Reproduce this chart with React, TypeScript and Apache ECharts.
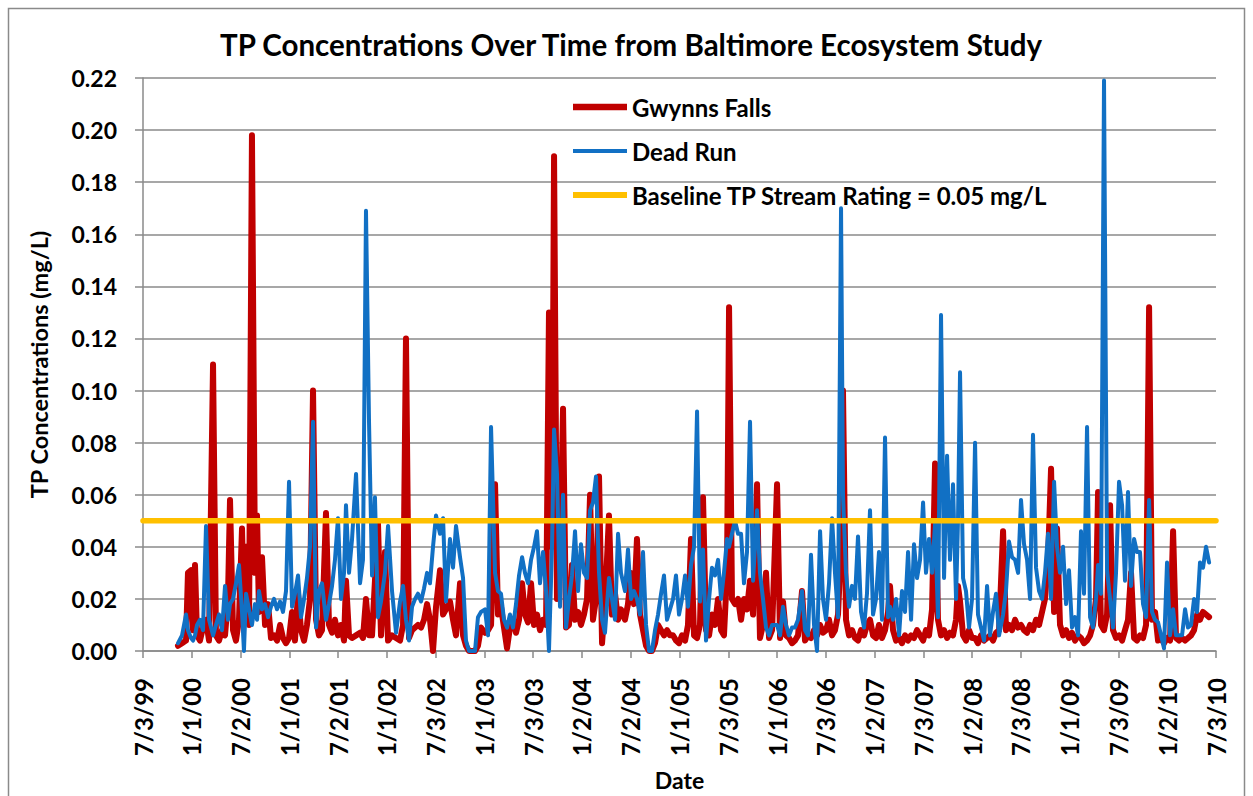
import { useEffect, useRef } from "react";
import * as echarts from "echarts";

// Sampling dates as decimal years (shared by both stream stations)
const sampleDates = [
  1999.859, 1999.900, 1999.941, 1999.961, 1999.992, 2000.013, 2000.033, 2000.054, 2000.084, 2000.115,
  2000.146, 2000.177, 2000.218, 2000.248, 2000.279, 2000.310, 2000.341, 2000.371, 2000.392, 2000.423,
  2000.453, 2000.484, 2000.515, 2000.535, 2000.556, 2000.587, 2000.617, 2000.648, 2000.669, 2000.689,
  2000.720, 2000.751, 2000.782, 2000.812, 2000.843, 2000.874, 2000.905, 2000.935, 2000.966, 2000.997,
  2001.028, 2001.058, 2001.089, 2001.120, 2001.151, 2001.181, 2001.212, 2001.243, 2001.274, 2001.304,
  2001.335, 2001.376, 2001.407, 2001.438, 2001.468, 2001.499, 2001.530, 2001.561, 2001.581, 2001.612,
  2001.643, 2001.684, 2001.725, 2001.755, 2001.786, 2001.817, 2001.848, 2001.878, 2001.909, 2001.940,
  2001.981, 2002.012, 2002.053, 2002.094, 2002.135, 2002.166, 2002.196, 2002.227, 2002.258, 2002.289,
  2002.319, 2002.350, 2002.381, 2002.412, 2002.442, 2002.473, 2002.504, 2002.545, 2002.576, 2002.606,
  2002.647, 2002.678, 2002.709, 2002.750, 2002.781, 2002.811, 2002.842, 2002.873, 2002.904, 2002.934,
  2002.965, 2003.006, 2003.037, 2003.068, 2003.109, 2003.139, 2003.170, 2003.201, 2003.232, 2003.262,
  2003.293, 2003.324, 2003.355, 2003.386, 2003.416, 2003.447, 2003.478, 2003.509, 2003.539, 2003.570,
  2003.601, 2003.632, 2003.662, 2003.693, 2003.714, 2003.744, 2003.775, 2003.806, 2003.837, 2003.867,
  2003.898, 2003.929, 2003.960, 2003.990, 2004.021, 2004.052, 2004.083, 2004.113, 2004.144, 2004.175,
  2004.206, 2004.236, 2004.277, 2004.308, 2004.339, 2004.370, 2004.400, 2004.441, 2004.472, 2004.503,
  2004.534, 2004.564, 2004.595, 2004.626, 2004.657, 2004.688, 2004.718, 2004.749, 2004.780, 2004.811,
  2004.841, 2004.872, 2004.903, 2004.934, 2004.964, 2004.995, 2005.026, 2005.057, 2005.087, 2005.118,
  2005.149, 2005.180, 2005.210, 2005.241, 2005.272, 2005.303, 2005.333, 2005.364, 2005.395, 2005.426,
  2005.456, 2005.487, 2005.508, 2005.538, 2005.569, 2005.600, 2005.631, 2005.661, 2005.692, 2005.723,
  2005.754, 2005.795, 2005.825, 2005.856, 2005.887, 2005.918, 2005.949, 2006.000, 2006.031, 2006.061,
  2006.092, 2006.123, 2006.154, 2006.184, 2006.215, 2006.256, 2006.287, 2006.318, 2006.348, 2006.379,
  2006.410, 2006.441, 2006.471, 2006.502, 2006.533, 2006.564, 2006.594, 2006.625, 2006.656, 2006.676,
  2006.707, 2006.738, 2006.769, 2006.799, 2006.830, 2006.861, 2006.892, 2006.922, 2006.953, 2006.984,
  2007.015, 2007.045, 2007.076, 2007.107, 2007.138, 2007.158, 2007.189, 2007.220, 2007.251, 2007.281,
  2007.312, 2007.343, 2007.374, 2007.404, 2007.435, 2007.466, 2007.497, 2007.527, 2007.558, 2007.589,
  2007.620, 2007.650, 2007.681, 2007.712, 2007.743, 2007.773, 2007.804, 2007.835, 2007.855, 2007.876,
  2007.907, 2007.937, 2007.968, 2007.999, 2008.030, 2008.060, 2008.091, 2008.122, 2008.153, 2008.183,
  2008.214, 2008.245, 2008.276, 2008.317, 2008.347, 2008.378, 2008.409, 2008.440, 2008.471, 2008.501,
  2008.532, 2008.563, 2008.594, 2008.624, 2008.655, 2008.686, 2008.717, 2008.747, 2008.778, 2008.809,
  2008.840, 2008.870, 2008.901, 2008.932, 2008.963, 2008.993, 2009.024, 2009.055, 2009.086, 2009.116,
  2009.147, 2009.178, 2009.209, 2009.239, 2009.270, 2009.291, 2009.321, 2009.352, 2009.383, 2009.414,
  2009.444, 2009.475, 2009.506, 2009.537, 2009.567, 2009.598, 2009.629, 2009.660, 2009.690, 2009.721,
  2009.752, 2009.783, 2009.814, 2009.844, 2009.875, 2009.906, 2009.937, 2009.967, 2009.998, 2010.029,
  2010.060, 2010.090, 2010.121, 2010.152, 2010.183, 2010.213, 2010.244, 2010.275, 2010.306, 2010.336,
  2010.367, 2010.398, 2010.429,
];

// Total phosphorus, mg/L
const gwynnsFalls = [
  0.002, 0.003, 0.004, 0.030, 0.031, 0.008, 0.033, 0.006, 0.004, 0.009,
  0.012, 0.004, 0.110, 0.006, 0.004, 0.008, 0.006, 0.020, 0.058, 0.008,
  0.004, 0.012, 0.047, 0.015, 0.040, 0.010, 0.198, 0.030, 0.052, 0.015,
  0.036, 0.010, 0.018, 0.005, 0.006, 0.004, 0.010, 0.005, 0.003, 0.005,
  0.015, 0.004, 0.022, 0.008, 0.004, 0.010, 0.020, 0.100, 0.012, 0.006,
  0.008, 0.053, 0.010, 0.007, 0.012, 0.006, 0.010, 0.004, 0.027, 0.006,
  0.005, 0.006, 0.007, 0.005, 0.020, 0.006, 0.006, 0.027, 0.049, 0.006,
  0.038, 0.004, 0.006, 0.005, 0.004, 0.010, 0.120, 0.005, 0.008, 0.009,
  0.010, 0.009, 0.012, 0.018, 0.012, 0.000, 0.017, 0.031, 0.014, 0.016,
  0.019, 0.012, 0.006, 0.026, 0.006, 0.002, 0.000, 0.000, 0.000, 0.002,
  0.009, 0.007, 0.008, 0.010, 0.064, 0.014, 0.017, 0.009, 0.001, 0.009,
  0.012, 0.007, 0.012, 0.026, 0.014, 0.011, 0.026, 0.010, 0.014, 0.008,
  0.012, 0.010, 0.130, 0.040, 0.190, 0.020, 0.035, 0.093, 0.009, 0.010,
  0.033, 0.012, 0.015, 0.010, 0.014, 0.020, 0.060, 0.012, 0.020, 0.067,
  0.003, 0.018, 0.052, 0.014, 0.022, 0.012, 0.016, 0.012, 0.018, 0.030,
  0.018, 0.043, 0.014, 0.008, 0.002, 0.000, 0.000, 0.003, 0.010, 0.008,
  0.006, 0.008, 0.006, 0.006, 0.004, 0.003, 0.006, 0.004, 0.010, 0.043,
  0.006, 0.005, 0.010, 0.059, 0.008, 0.006, 0.014, 0.010, 0.020, 0.008,
  0.006, 0.030, 0.132, 0.020, 0.018, 0.020, 0.012, 0.020, 0.016, 0.027,
  0.014, 0.064, 0.005, 0.010, 0.030, 0.005, 0.008, 0.064, 0.005, 0.019,
  0.006, 0.005, 0.003, 0.004, 0.006, 0.023, 0.004, 0.006, 0.005, 0.008,
  0.006, 0.010, 0.007, 0.008, 0.012, 0.006, 0.008, 0.014, 0.040, 0.100,
  0.012, 0.006, 0.008, 0.005, 0.004, 0.008, 0.006, 0.010, 0.012, 0.006,
  0.005, 0.010, 0.005, 0.008, 0.015, 0.025, 0.008, 0.004, 0.005, 0.003,
  0.006, 0.004, 0.006, 0.005, 0.008, 0.006, 0.004, 0.008, 0.006, 0.016,
  0.072, 0.012, 0.006, 0.008, 0.005, 0.007, 0.006, 0.012, 0.025, 0.019,
  0.006, 0.004, 0.008, 0.005, 0.005, 0.003, 0.006, 0.004, 0.005, 0.006,
  0.004, 0.007, 0.008, 0.046, 0.008, 0.010, 0.008, 0.012, 0.009, 0.010,
  0.008, 0.007, 0.010, 0.008, 0.012, 0.010, 0.015, 0.020, 0.035, 0.070,
  0.015, 0.047, 0.010, 0.006, 0.008, 0.005, 0.007, 0.004, 0.006, 0.005,
  0.003, 0.004, 0.006, 0.010, 0.020, 0.061, 0.010, 0.008, 0.014, 0.056,
  0.008, 0.005, 0.006, 0.004, 0.008, 0.012, 0.030, 0.005, 0.004, 0.006,
  0.005, 0.010, 0.132, 0.012, 0.015, 0.004, 0.005, 0.003, 0.005, 0.004,
  0.046, 0.005, 0.004, 0.005, 0.004, 0.005, 0.006, 0.008, 0.014, 0.012,
  0.015, 0.014, 0.013,
];

const deadRun = [
  0.003, 0.006, 0.014, 0.008, 0.005, 0.004, 0.006, 0.010, 0.012, 0.008,
  0.048, 0.012, 0.006, 0.010, 0.014, 0.008, 0.025, 0.012, 0.018, 0.020,
  0.026, 0.033, 0.015, 0.000, 0.022, 0.016, 0.010, 0.018, 0.012, 0.023,
  0.016, 0.018, 0.013, 0.017, 0.020, 0.016, 0.019, 0.015, 0.023, 0.065,
  0.017, 0.022, 0.029, 0.013, 0.020, 0.028, 0.040, 0.088, 0.009, 0.023,
  0.026, 0.012, 0.018, 0.025, 0.035, 0.051, 0.020, 0.030, 0.056, 0.030,
  0.043, 0.068, 0.026, 0.035, 0.169, 0.088, 0.029, 0.059, 0.013, 0.019,
  0.030, 0.048, 0.023, 0.007, 0.019, 0.025, 0.012, 0.004, 0.017, 0.020,
  0.022, 0.019, 0.024, 0.030, 0.026, 0.040, 0.052, 0.045, 0.051, 0.019,
  0.043, 0.032, 0.048, 0.036, 0.028, 0.004, 0.000, 0.000, 0.000, 0.013,
  0.015, 0.016, 0.006, 0.086, 0.030, 0.023, 0.022, 0.012, 0.009, 0.014,
  0.009, 0.018, 0.029, 0.036, 0.030, 0.026, 0.035, 0.040, 0.046, 0.026,
  0.038, 0.023, 0.000, 0.040, 0.085, 0.068, 0.017, 0.060, 0.009, 0.020,
  0.029, 0.046, 0.023, 0.041, 0.030, 0.028, 0.054, 0.057, 0.067, 0.030,
  0.012, 0.007, 0.028, 0.020, 0.012, 0.045, 0.030, 0.023, 0.039, 0.020,
  0.023, 0.020, 0.014, 0.038, 0.010, 0.000, 0.000, 0.008, 0.014, 0.022,
  0.029, 0.012, 0.016, 0.020, 0.029, 0.014, 0.020, 0.029, 0.017, 0.033,
  0.040, 0.092, 0.019, 0.039, 0.004, 0.020, 0.032, 0.029, 0.035, 0.020,
  0.030, 0.043, 0.040, 0.045, 0.050, 0.045, 0.045, 0.026, 0.038, 0.088,
  0.027, 0.054, 0.030, 0.020, 0.009, 0.006, 0.010, 0.010, 0.006, 0.017,
  0.010, 0.006, 0.009, 0.009, 0.012, 0.023, 0.008, 0.006, 0.037, 0.010,
  0.000, 0.046, 0.020, 0.012, 0.026, 0.051, 0.030, 0.013, 0.170, 0.060,
  0.030, 0.017, 0.025, 0.020, 0.044, 0.015, 0.009, 0.022, 0.054, 0.014,
  0.020, 0.038, 0.012, 0.082, 0.013, 0.017, 0.012, 0.020, 0.006, 0.023,
  0.015, 0.038, 0.012, 0.041, 0.028, 0.035, 0.057, 0.030, 0.043, 0.030,
  0.049, 0.013, 0.129, 0.028, 0.075, 0.035, 0.064, 0.020, 0.050, 0.107,
  0.028, 0.023, 0.009, 0.020, 0.080, 0.014, 0.009, 0.004, 0.025, 0.006,
  0.015, 0.022, 0.006, 0.014, 0.023, 0.042, 0.036, 0.035, 0.030, 0.058,
  0.041, 0.035, 0.020, 0.083, 0.032, 0.023, 0.020, 0.030, 0.045, 0.020,
  0.065, 0.040, 0.030, 0.040, 0.018, 0.031, 0.009, 0.013, 0.006, 0.046,
  0.022, 0.086, 0.013, 0.009, 0.020, 0.033, 0.022, 0.219, 0.031, 0.020,
  0.009, 0.030, 0.065, 0.056, 0.027, 0.061, 0.025, 0.043, 0.038, 0.038,
  0.018, 0.013, 0.058, 0.015, 0.012, 0.011, 0.006, 0.001, 0.034, 0.006,
  0.016, 0.006, 0.006, 0.006, 0.016, 0.009, 0.010, 0.020, 0.015, 0.034,
  0.032, 0.040, 0.034,
];

const baselineRating = 0.05;
const axisStart = 1999.5;
const axisEnd = 2010.5;
const axisStep = 0.5;

const tickLabels = [
  "7/3/99", "1/1/00", "7/2/00", "1/1/01", "7/2/01", "1/1/02", "7/3/02", "1/1/03",
  "7/3/03", "1/2/04", "7/2/04", "1/1/05", "7/3/05", "1/1/06", "7/3/06", "1/2/07",
  "7/3/07", "1/2/08", "7/3/08", "1/1/09", "7/3/09", "1/2/10", "7/3/10",
];

const FONT = "Lato";
const GRID_GRAY = "#8a8a8a";

export default function App() {
  const ref = useRef<HTMLDivElement>(null);

  useEffect(() => {
    if (!ref.current) return;
    const chart = echarts.init(ref.current, null, { renderer: "svg" });
    const toPairs = (vals: number[]) => sampleDates.map((d, i) => [d, vals[i]]);

    chart.setOption({
      animation: false,
      backgroundColor: "#ffffff",
      title: {
        text: "TP Concentrations Over Time from Baltimore Ecosystem Study",
        left: 220,
        top: 29,
        padding: 0,
        textStyle: { fontFamily: FONT, fontWeight: "bold", fontSize: 29.5, color: "#000" },
      },
      graphic: [
        {
          type: "rect",
          shape: { x: 8.5, y: 8.5, width: 1236, height: 800 },
          style: { fill: "none", stroke: GRID_GRAY, lineWidth: 1.5 },
          silent: true,
        },
      ],
      legend: {
        orient: "vertical",
        left: 573,
        top: 95,
        padding: 0,
        itemWidth: 54,
        itemHeight: 22,
        itemGap: 20,
        textStyle: { fontFamily: FONT, fontWeight: "bold", fontSize: 24, color: "#000", lineHeight: 22 },
        data: [
          { name: "Gwynns Falls", icon: "path://M0,0H54V6.5H0Z" },
          { name: "Dead Run", icon: "path://M0,0H54V4H0Z" },
          { name: "Baseline TP Stream Rating = 0.05 mg/L", icon: "path://M0,0H54V6H0Z" },
        ],
      },
      grid: { left: 143, right: 37, top: 78, bottom: 145 },
      xAxis: {
        type: "value",
        min: axisStart,
        max: axisEnd,
        interval: axisStep,
        name: "Date",
        nameLocation: "middle",
        nameGap: 117,
        nameTextStyle: { fontFamily: FONT, fontWeight: "bold", fontSize: 23, color: "#000" },
        axisLine: { show: true, lineStyle: { color: GRID_GRAY, width: 1.5 } },
        axisTick: { show: true, length: 7, lineStyle: { color: GRID_GRAY, width: 1.5 } },
        splitLine: { show: false },
        axisLabel: {
          rotate: 90,
          margin: 27,
          fontFamily: FONT,
          fontWeight: "bold",
          fontSize: 24,
          color: "#000",
          formatter: (v: number) => tickLabels[Math.round((v - axisStart) / axisStep)] ?? "",
        },
      },
      yAxis: {
        type: "value",
        min: 0,
        max: 0.22,
        interval: 0.02,
        name: "TP Concentrations (mg/L)",
        nameLocation: "middle",
        nameGap: 92,
        nameTextStyle: { fontFamily: FONT, fontWeight: "bold", fontSize: 23.5, color: "#000" },
        axisLine: { show: true, lineStyle: { color: GRID_GRAY, width: 1.5 } },
        axisTick: { show: true, length: 8, lineStyle: { color: GRID_GRAY, width: 1.5 } },
        splitLine: { show: true, lineStyle: { color: GRID_GRAY, width: 1.5 } },
        axisLabel: {
          margin: 26,
          fontFamily: FONT,
          fontWeight: "bold",
          fontSize: 23,
          color: "#000",
          formatter: (v: number) => v.toFixed(2),
        },
      },
      series: [
        {
          name: "Gwynns Falls",
          type: "line",
          data: toPairs(gwynnsFalls),
          showSymbol: false,
          symbol: "none",
          clip: false,
          color: "#C00000",
          lineStyle: { width: 6, color: "#C00000", cap: "round", join: "round" },
        },
        {
          name: "Dead Run",
          type: "line",
          data: toPairs(deadRun),
          showSymbol: false,
          symbol: "none",
          clip: false,
          color: "#1170C4",
          lineStyle: { width: 4, color: "#1170C4", cap: "round", join: "round" },
        },
        {
          name: "Baseline TP Stream Rating = 0.05 mg/L",
          type: "line",
          data: [
            [axisStart, baselineRating],
            [axisEnd, baselineRating],
          ],
          showSymbol: false,
          symbol: "none",
          clip: false,
          color: "#FFC000",
          lineStyle: { width: 5.5, color: "#FFC000", cap: "round" },
        },
      ],
    });

    return () => chart.dispose();
  }, []);

  return (
    <div
      ref={ref}
      style={{ position: "fixed", left: 0, top: 0, width: 1253, height: 796, background: "#fff" }}
    />
  );
}
